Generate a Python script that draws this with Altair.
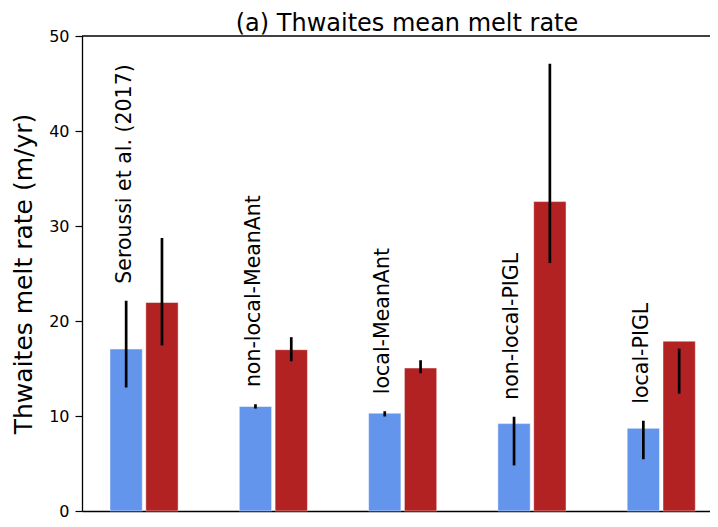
import altair as alt
import pandas as pd

# ---- data ----
title_text = ["(a) Thwaites mean melt rate"]
groups = ["Seroussi et al. (2017)", "non-local-MeanAnt", "local-MeanAnt",
          "non-local-PIGL", "local-PIGL"]
blue_mean = [17.05, 11.0, 10.3, 9.2, 8.7]
blue_lo = [13.0, 10.78, 9.95, 4.8, 5.45]
blue_hi = [22.13, 11.24, 10.5, 9.92, 9.5]
red_mean = [21.95, 16.98, 15.05, 32.57, 17.88]
red_lo = [17.43, 15.76, 14.5, 26.1, 12.35]
red_hi = [28.74, 18.3, 15.87, 47.08, 17.09]
y_ticks = [0, 10, 20, 30, 40, 50]

# ---- layout constants ----
OFF = 0.1385   # half distance between paired bar centres (units)
HALF_W = 0.125  # half bar width (units)
LABEL_GAP = 1.8

FONT = "DejaVu Sans"
W, H = 628, 475

rows = []
for i, g in enumerate(groups):
    rows.append(dict(idx=i, grp=g, series="a", mean=blue_mean[i], lo=blue_lo[i],
                     hi=blue_hi[i], pos=i - OFF))
    rows.append(dict(idx=i, grp=g, series="b", mean=red_mean[i], lo=red_lo[i],
                     hi=red_hi[i], pos=i + OFF))
df = pd.DataFrame(rows)
df["x0"] = df["pos"] - HALF_W
df["x1"] = df["pos"] + HALF_W

lab = pd.DataFrame({"grp": groups, "idx": list(range(len(groups))),
                    "hi": blue_hi})
lab["pos"] = lab["idx"] - OFF - 0.012
lab["ly"] = lab["hi"] + LABEL_GAP

xscale = alt.Scale(domain=[-0.480, 4.377], nice=False, zero=False)
yscale = alt.Scale(domain=[0, 50], nice=False)

base = alt.Chart(df)

bars = base.mark_bar(stroke="#ffffff", strokeWidth=0.8, strokeOpacity=0.6).encode(
    x=alt.X("x0:Q", scale=xscale,
            axis=alt.Axis(title=None, labels=False, ticks=False, grid=False,
                          domainColor="#000000", domainWidth=1.3)),
    x2="x1:Q",
    y=alt.Y("mean:Q", scale=yscale,
            axis=alt.Axis(values=y_ticks, title="Thwaites melt rate (m/yr)",
                          titleFontSize=25, titleFont=FONT, titleFontWeight="normal",
                          titleColor="#000000", titleX=-59, titleY=H / 2,
                          titleBaseline="middle", titleAngle=270,
                          labelFont=FONT, labelFontSize=16, labelColor="#000000",
                          labelPadding=6, tickSize=7, tickColor="#000000",
                          tickWidth=1.2, domainColor="#000000", domainWidth=1.3,
                          grid=False)),
    y2=alt.datum(0),
    color=alt.Color("series:N",
                    scale=alt.Scale(domain=["a", "b"], range=["#6495ED", "#B22222"]),
                    legend=None),
)

errs = base.mark_rule(color="#000000", strokeWidth=2.7).encode(
    x=alt.X("pos:Q", scale=xscale),
    y=alt.Y("lo:Q", scale=yscale),
    y2="hi:Q",
)

labels = alt.Chart(lab).mark_text(
    angle=270, align="left", baseline="middle", font=FONT, fontSize=20.5,
    color="#000000"
).encode(
    x=alt.X("pos:Q", scale=xscale),
    y=alt.Y("ly:Q", scale=yscale),
    text="grp:N",
)

top_line = alt.Chart(pd.DataFrame({"k": [0]})).mark_rule(
    color="#000000", strokeWidth=1.3
).encode(
    x=alt.value(0), x2=alt.value(W), y=alt.value(0)
)

title = alt.Chart(pd.DataFrame({"t": title_text})).mark_text(
    font=FONT, fontSize=24, color="#000000", align="center", baseline="alphabetic"
).encode(
    x=alt.value(325), y=alt.value(-5), text="t:N"
)

chart = alt.layer(bars, errs, labels, top_line, title).properties(
    width=W, height=H,
    autosize=alt.AutoSizeParams(type="none"),
    padding={"left": 74, "top": 28, "right": 0, "bottom": 8},
).configure_view(stroke=None)

chart.save("out.html", embed_options={"renderer": "svg", "actions": False})
